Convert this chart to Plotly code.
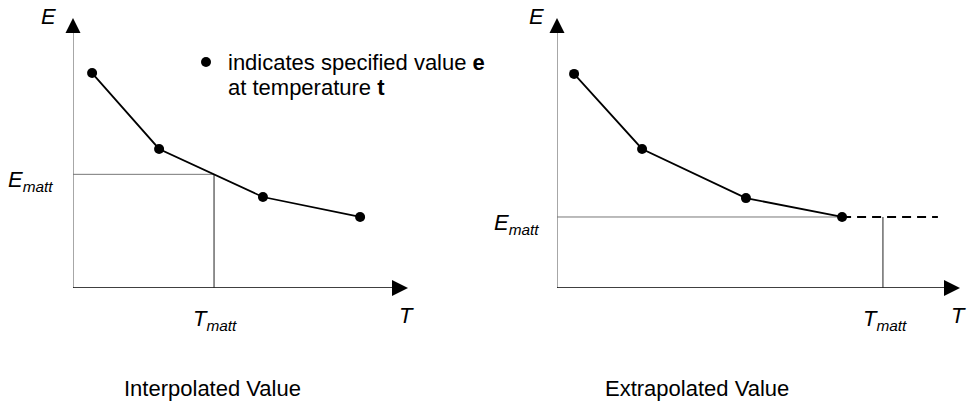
import plotly.graph_objects as go

W, H = 968, 403
FONT = "Liberation Sans, Arial, sans-serif"

# ---- data (abstract units) ----
# Left panel: interpolation
T_left = [0.57, 2.57, 5.67, 8.57]
E_left = [7.96, 5.15, 3.37, 2.63]
T_matt_left = 4.21
E_matt_left = 4.21

# Right panel: extrapolation
T_right = [0.51, 2.54, 5.64, 8.51]
E_right = [7.93, 5.15, 3.33, 2.63]
T_matt_right = 9.73
E_matt_right = 2.63
T_dash_end_right = 11.37

X_MAX_LEFT = 10.0
X_MAX_RIGHT = 12.03
Y_MAX = 10.0

# legend marker position (left panel units)
LEG_T, LEG_E = 3.97, 8.37

def px(x):
    return x / W

def py(y):
    return 1 - y / H

fig = go.Figure()

def add_axes(xa, ya, xmax):
    fig.add_trace(go.Scatter(x=[0, 0], y=[0, Y_MAX - 0.5], mode="lines",
                             line=dict(color="#8a8a8a", width=1.5),
                             xaxis=xa, yaxis=ya, showlegend=False, hoverinfo="skip",
                             cliponaxis=False))
    fig.add_trace(go.Scatter(x=[0], y=[Y_MAX], mode="markers",
                             marker=dict(symbol="arrow-up", size=15, color="black",
                                         line=dict(width=0)),
                             xaxis=xa, yaxis=ya, showlegend=False, hoverinfo="skip",
                             cliponaxis=False))
    fig.add_trace(go.Scatter(x=[0, xmax - 0.4], y=[0, 0], mode="lines",
                             line=dict(color="black", width=1.5),
                             xaxis=xa, yaxis=ya, showlegend=False, hoverinfo="skip",
                             cliponaxis=False))
    fig.add_trace(go.Scatter(x=[xmax], y=[0], mode="markers",
                             marker=dict(symbol="arrow-right", size=16, color="black",
                                         line=dict(width=0)),
                             xaxis=xa, yaxis=ya, showlegend=False, hoverinfo="skip",
                             cliponaxis=False))

# ---------- left panel ----------
add_axes("x", "y", X_MAX_LEFT)
fig.add_trace(go.Scatter(x=[0, T_matt_left], y=[E_matt_left, E_matt_left], mode="lines",
                         line=dict(color="#777777", width=1),
                         xaxis="x", yaxis="y", showlegend=False, hoverinfo="skip"))
fig.add_trace(go.Scatter(x=[T_matt_left, T_matt_left], y=[0, E_matt_left], mode="lines",
                         line=dict(color="#222222", width=1),
                         xaxis="x", yaxis="y", showlegend=False, hoverinfo="skip"))
fig.add_trace(go.Scatter(x=T_left, y=E_left, mode="lines+markers",
                         line=dict(color="black", width=1.8),
                         marker=dict(color="black", size=10),
                         xaxis="x", yaxis="y", showlegend=False, hoverinfo="skip",
                         cliponaxis=False))
fig.add_trace(go.Scatter(x=[LEG_T], y=[LEG_E], mode="markers",
                         marker=dict(color="black", size=10),
                         xaxis="x", yaxis="y", showlegend=False, hoverinfo="skip",
                         cliponaxis=False))

# ---------- right panel ----------
add_axes("x2", "y2", X_MAX_RIGHT)
fig.add_trace(go.Scatter(x=[0, T_right[-1]], y=[E_matt_right, E_matt_right], mode="lines",
                         line=dict(color="#777777", width=1),
                         xaxis="x2", yaxis="y2", showlegend=False, hoverinfo="skip"))
fig.add_trace(go.Scatter(x=[T_matt_right, T_matt_right], y=[0, E_matt_right], mode="lines",
                         line=dict(color="#222222", width=1),
                         xaxis="x2", yaxis="y2", showlegend=False, hoverinfo="skip"))
fig.add_trace(go.Scatter(x=[T_right[-1], T_dash_end_right], y=[E_matt_right, E_matt_right],
                         mode="lines", line=dict(color="black", width=2, dash="9px,6px"),
                         xaxis="x2", yaxis="y2", showlegend=False, hoverinfo="skip",
                         cliponaxis=False))
fig.add_trace(go.Scatter(x=T_right, y=E_right, mode="lines+markers",
                         line=dict(color="black", width=1.8),
                         marker=dict(color="black", size=10),
                         xaxis="x2", yaxis="y2", showlegend=False, hoverinfo="skip",
                         cliponaxis=False))

hidden = dict(showgrid=False, zeroline=False, showline=False, showticklabels=False,
              ticks="", fixedrange=True)
fig.update_layout(
    width=W, height=H,
    margin=dict(l=0, r=0, t=0, b=0),
    paper_bgcolor="white", plot_bgcolor="rgba(0,0,0,0)",
    xaxis=dict(domain=[px(73), px(408)], range=[0, X_MAX_LEFT], anchor="y", **hidden),
    yaxis=dict(domain=[py(288), py(18)], range=[0, Y_MAX], anchor="x", **hidden),
    xaxis2=dict(domain=[px(557), px(960)], range=[0, X_MAX_RIGHT], anchor="y2", **hidden),
    yaxis2=dict(domain=[py(288), py(18)], range=[0, Y_MAX], anchor="x2", **hidden),
    font=dict(family=FONT, color="black"),
)

def txt(x, y, s, size=22, xanchor="center"):
    fig.add_annotation(x=px(x), y=py(y), xref="paper", yref="paper", text=s,
                       showarrow=False, xanchor=xanchor, yanchor="middle",
                       font=dict(family=FONT, size=size, color="black"))

# axis labels
txt(48, 17, "<i>E</i>")
txt(536, 17, "<i>E</i>")
txt(406, 315, "<i>T</i>")
txt(958, 315, "<i>T</i>")
txt(30, 181, "<i>E<sub>matt</sub></i>")
txt(516, 224, "<i>E<sub>matt</sub></i>")
txt(215, 320, "<i>T<sub>matt</sub></i>")
txt(885, 320, "<i>T<sub>matt</sub></i>")

# legend text
txt(226, 62, "indicates specified value <b>e</b>", size=22, xanchor="left")
txt(226, 87, "at temperature <b>t</b>", size=22, xanchor="left")

# captions
txt(212, 388, "Interpolated Value", size=22)
txt(697, 388, "Extrapolated Value", size=22)

fig.write_html("out.html", config={"displayModeBar": False},
               post_script="document.body.style.margin='0';document.body.style.padding='0';")
